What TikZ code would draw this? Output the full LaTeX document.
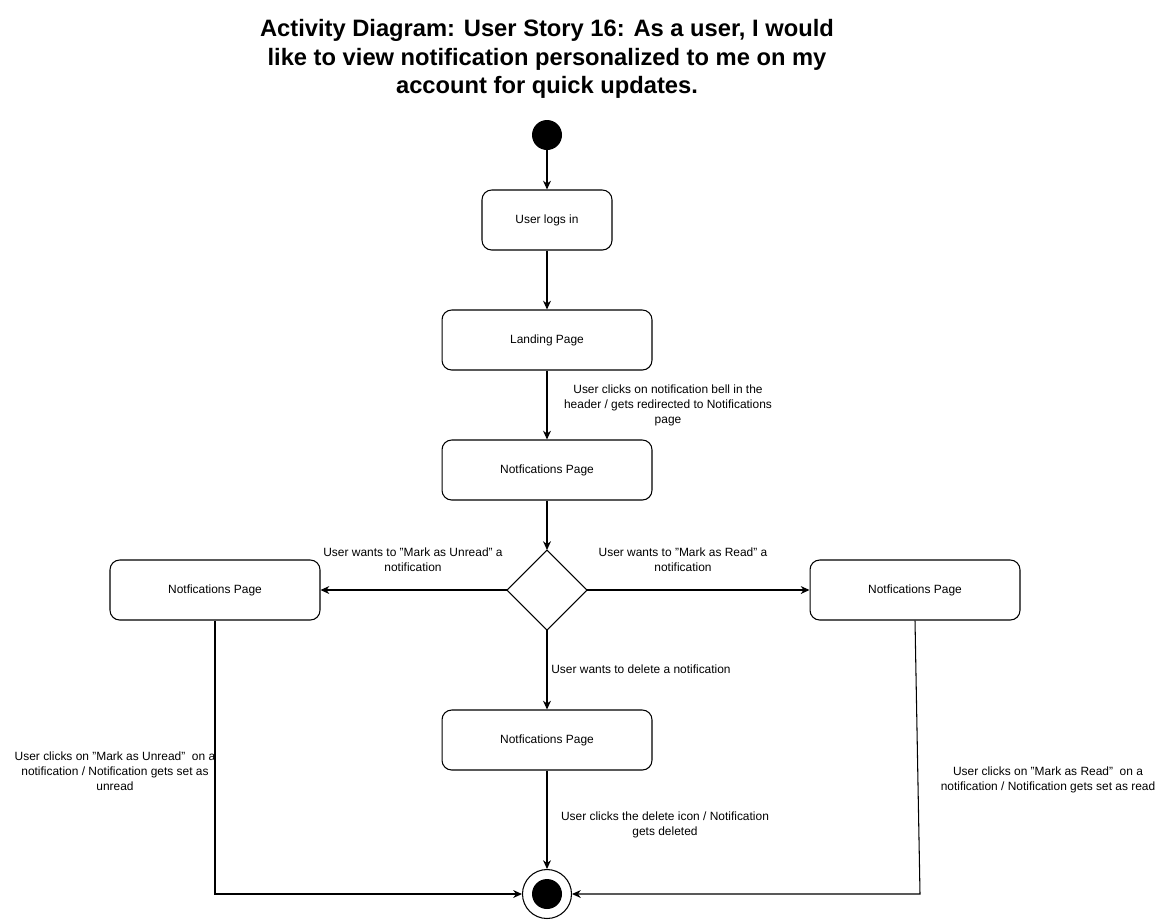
\documentclass[tikz,border=0pt]{standalone}
\usepackage{fontspec}
\setmainfont{Liberation Sans}
\usetikzlibrary{arrows.meta,shapes.geometric}
\begin{document}
\begin{tikzpicture}[x=0.02cm,y=-0.02cm,
  act/.style={draw,rounded corners=5.5pt,line width=0.6pt,minimum width=4.2cm,minimum height=1.2cm,font=\fontsize{6.8}{8.2}\selectfont,inner sep=0pt},
  lbl/.style={font=\fontsize{6.8}{8.5}\selectfont,align=center,inner sep=0pt},
  conn/.style={line width=0.6pt,-{Stealth[length=5pt,width=4.5pt]}},
  plain/.style={line width=0.6pt}]
\useasboundingbox (0,0) rectangle (1159,921);
\node[font=\bfseries\fontsize{13.5}{16.4}\selectfont,align=center] (title) at (547,59)
 {Activity Diagram: User Story 16: As a user, I would\\like to view notification personalized to me on my\\account for quick updates.};
\node[circle,fill=black,minimum size=0.6cm,inner sep=0pt] (start) at (547,135) {};
\node[act,minimum width=2.6cm] (login) at (547,220) {User logs in};
\node[act] (landing) at (547,340) {Landing Page};
\node[act] (notif) at (547,470) {Notfications Page};
\draw[line width=0.6pt] (507,590) -- (547,550) -- (587,590) -- (547,630) -- cycle;
\coordinate (dtop) at (547,550);
\coordinate (dleft) at (507,590);
\coordinate (dright) at (587,590);
\coordinate (dbot) at (547,630);
\node[act] (left) at (215,590) {Notfications Page};
\node[act] (right) at (915,590) {Notfications Page};
\node[act] (bottom) at (547,740) {Notfications Page};
\node[circle,draw,line width=0.6pt,minimum size=0.98cm,inner sep=0pt] (end) at (547,894) {};
\node[circle,fill=black,minimum size=0.6cm,inner sep=0pt] (endin) at (547,894) {};
\draw[conn] (start) -- (login);
\draw[conn] (login) -- (landing);
\draw[conn] (landing) -- (notif);
\draw[conn] (notif.south) -- (dtop);
\draw[conn] (dleft) -- (left);
\draw[conn] (dright) -- (right);
\draw[conn] (dbot) -- (bottom);
\draw[conn] (bottom) -- (end);
\coordinate (lc) at (215,894);
\coordinate (rc) at (920,894);
\draw[conn] (left.south) -- (lc) -- (end.west);
\draw[conn] (right.south) -- (rc) -- (end.east);
\node[lbl] (l1) at (668,405) {User clicks on notification bell in the\\header / gets redirected to Notifications\\page};
\node[lbl] (l2) at (413,560) {User wants to "Mark as Unread" a\\notification};
\node[lbl] (l3) at (683,560) {User wants to "Mark as Read" a\\notification};
\node[lbl,anchor=west] (l4) at (551,669) {User wants to delete a notification};
\node[lbl] (l5) at (115,771) {User clicks on "Mark as Unread"\ \ on a\\notification / Notification gets set as\\unread};
\node[lbl] (l6) at (1048,780) {User clicks on "Mark as Read"\ \ on a\\notification / Notification gets set as read};
\node[lbl] (l7) at (665,825) {User clicks the delete icon / Notification\\gets deleted};
\end{tikzpicture}
\end{document}
